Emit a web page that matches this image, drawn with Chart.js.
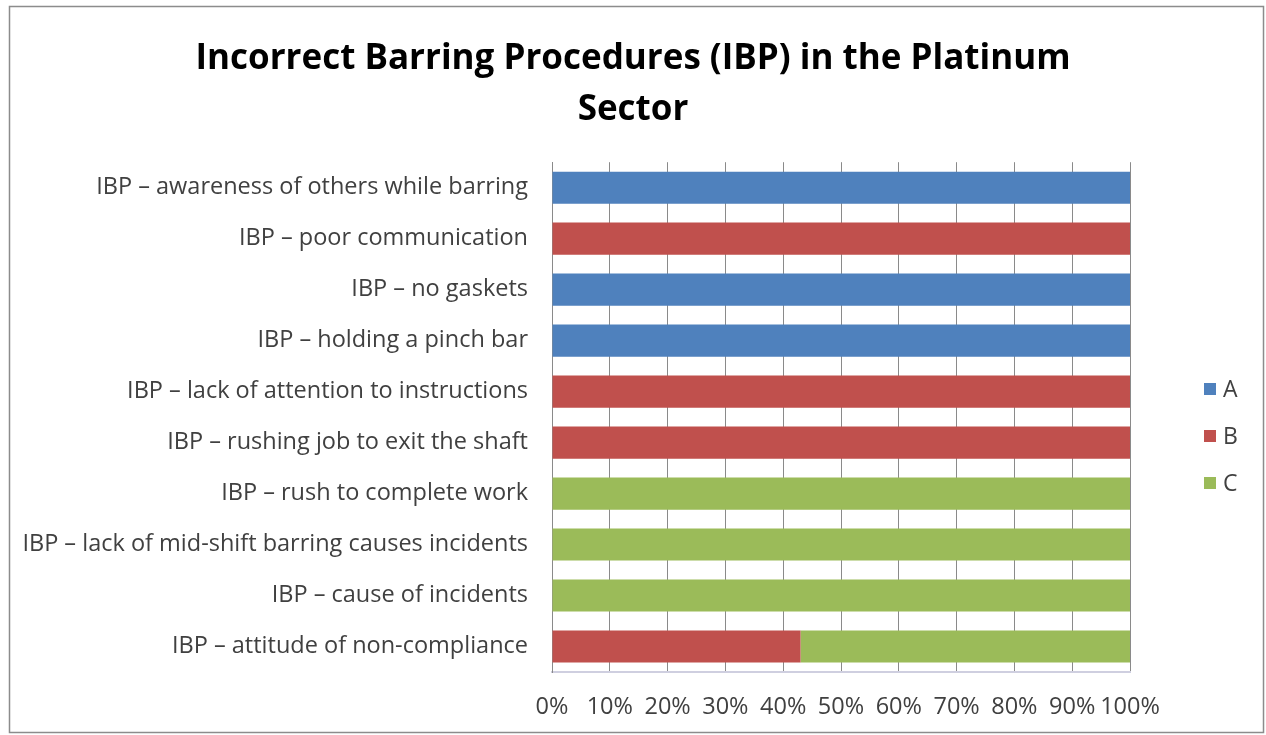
<!DOCTYPE html>
<html>
<head>
<meta charset="utf-8">
<script src="https://cdn.jsdelivr.net/npm/chart.js@4.4.1/dist/chart.umd.min.js"></script>
<style>
html,body{margin:0;padding:0;background:#fff;}
#wrap{width:1266px;height:735px;position:relative;}
</style>
</head>
<body>
<div id="wrap"><canvas id="c" width="1266" height="735"></canvas></div>
<script>
const categories = [
  "IBP – awareness of others while barring",
  "IBP – poor communication",
  "IBP – no gaskets",
  "IBP – holding a pinch bar",
  "IBP – lack of attention to instructions",
  "IBP – rushing job to exit the shaft",
  "IBP – rush to complete work",
  "IBP – lack of mid-shift barring causes incidents",
  "IBP – cause of incidents",
  "IBP – attitude of non-compliance"
];
const seriesNames = ["A", "B", "C"];
const valuesA = [100, 0, 100, 100, 0, 0, 0, 0, 0, 0];
const valuesB = [0, 100, 0, 0, 100, 100, 0, 0, 0, 43];
const valuesC = [0, 0, 0, 0, 0, 0, 100, 100, 100, 57];
const xTicks = [0, 10, 20, 30, 40, 50, 60, 70, 80, 90, 100];
const titleLines = ["Incorrect Barring Procedures (IBP) in the Platinum", "Sector"];
const colors = ["#4F81BD", "#C0504D", "#9BBB59"];

const FONT = "'Open Sans', Lato, sans-serif";

const decor = {
  id: 'decor',
  beforeInit(chart) {
    const box = {
      position: 'right',
      weight: 100,
      fullSize: false,
      options: { stack: undefined, stackWeight: 1 },
      isHorizontal() { return false; },
      update(maxWidth, maxHeight) {
        this.width = 136;
        this.height = maxHeight;
        return { width: 136, height: maxHeight };
      },
      getPadding() { return { left: 0, right: 0, top: 0, bottom: 0 }; },
      draw() {}
    };
    Chart.layouts.addBox(chart, box);
  },
  beforeDraw(chart) {
    const ctx = chart.ctx;
    ctx.save();
    ctx.fillStyle = '#ffffff';
    ctx.fillRect(0, 0, chart.width, chart.height);
    ctx.strokeStyle = '#8c8c8c';
    ctx.lineWidth = 1.5;
    ctx.strokeRect(9.5, 6.5, 1254, 726);
    ctx.restore();
  },
  afterDraw(chart) {
    const ctx = chart.ctx;
    ctx.save();
    ctx.font = "23px " + FONT;
    ctx.textBaseline = 'middle';
    ctx.textAlign = 'left';
    const ys = [389, 436, 483];
    chart.data.datasets.forEach((ds, i) => {
      ctx.fillStyle = ds.backgroundColor;
      ctx.fillRect(1204, ys[i] - 6, 12, 12);
      ctx.fillStyle = '#404040';
      ctx.fillText(ds.label, 1223, ys[i] + 1);
    });
    ctx.restore();
  }
};

new Chart(document.getElementById('c'), {
  type: 'bar',
  data: {
    labels: categories,
    datasets: [
      { label: seriesNames[0], data: valuesA, backgroundColor: colors[0] },
      { label: seriesNames[1], data: valuesB, backgroundColor: colors[1] },
      { label: seriesNames[2], data: valuesC, backgroundColor: colors[2] }
    ]
  },
  options: {
    indexAxis: 'y',
    responsive: false,
    animation: false,
    devicePixelRatio: 1,
    datasets: { bar: { categoryPercentage: 1, barPercentage: 0.63 } },
    layout: { padding: { left: 0, right: 0, top: 0, bottom: 0 } },
    plugins: {
      legend: { display: false },
      tooltip: { enabled: false },
      title: {
        display: true,
        text: titleLines,
        color: '#000000',
        font: { family: FONT, size: 35, weight: 'bold', lineHeight: 1.46 },
        padding: { top: 33, bottom: 27 }
      }
    },
    scales: {
      x: {
        stacked: true,
        min: 0, max: 100,
        afterBuildTicks(scale) { scale.ticks = xTicks.map(v => ({ value: v })); },
        afterFit(scale) { scale.height = 63; },
        ticks: {
          callback: v => v + '%',
          color: '#404040',
          font: { family: FONT, size: 23.5 },
          padding: 21,
          maxRotation: 0,
          autoSkip: false
        },
        grid: { color: '#8a8a8a', drawTicks: false, lineWidth: 1 },
        border: { color: '#cfcfe0', width: 2 }
      },
      y: {
        stacked: true,
        afterFit(scale) { scale.width = 552; },
        ticks: {
          color: '#404040',
          font: { family: FONT, size: 23.5 },
          padding: 24,
          autoSkip: false
        },
        grid: { display: false, drawTicks: false },
        border: { color: '#8a8a8a', width: 1 }
      }
    }
  },
  plugins: [decor]
});
</script>
</body>
</html>
